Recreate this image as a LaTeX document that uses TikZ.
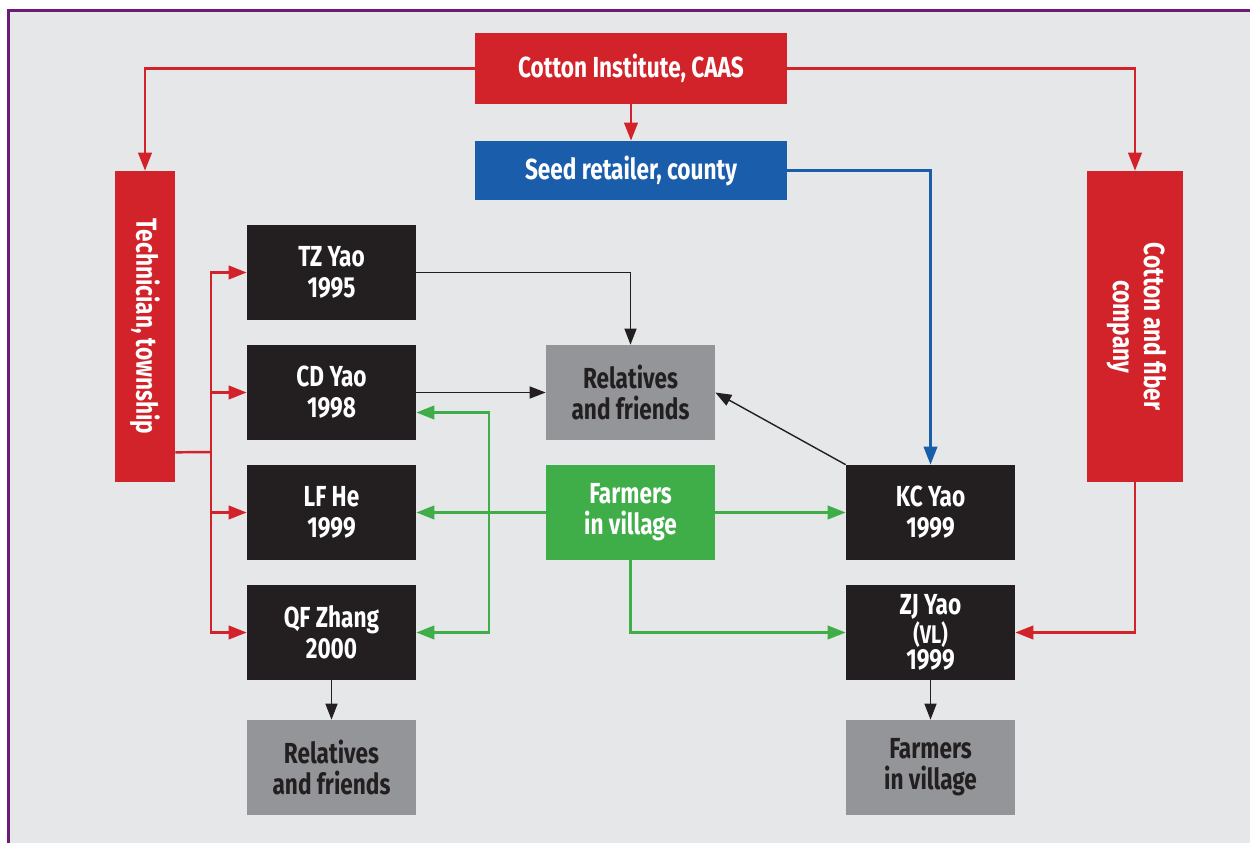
\documentclass[tikz,border=0pt]{standalone}
\usepackage{fontspec}
\setmainfont{Fira Sans}[FakeStretch=0.78]
\usetikzlibrary{arrows.meta}

\definecolor{instred}{HTML}{D2232A}
\definecolor{seedblue}{HTML}{1A5DAB}
\definecolor{farmgreen}{HTML}{3FAE49}
\definecolor{boxblack}{HTML}{231F20}
\definecolor{boxgrey}{HTML}{939598}
\definecolor{panelgrey}{HTML}{E6E7E9}
\definecolor{framepurple}{HTML}{6E1A76}

\begin{document}
\begin{tikzpicture}[x=0.02cm, y=-0.02cm,
  box/.style={minimum width=3.38cm, minimum height=1.9cm, inner sep=0pt,
    align=center, text=white, font=\bfseries\fontsize{16.5}{17.6}\selectfont},
  darkbox/.style={box, fill=boxblack},
  greybox/.style={box, fill=boxgrey, text=boxblack},
  redline/.style={draw=instred, line width=1.4pt, -{Triangle[length=0.36cm, width=0.27cm]}},
  blueline/.style={draw=seedblue, line width=1.3pt, -{Triangle[length=0.36cm, width=0.27cm]}},
  greenline/.style={draw=farmgreen, line width=1.4pt, -{Triangle[length=0.36cm, width=0.27cm]}},
  blackline/.style={draw=boxblack, line width=0.8pt, -{Triangle[length=0.32cm, width=0.24cm]}}]

  % panel
  \clip (0,0) rectangle (1250,842);
  \fill[white] (0,0) rectangle (1250,842);
  \draw[framepurple, line width=1.7pt, fill=panelgrey] (8.5,10.5) rectangle (1300,900);

  % institute and retailer
  \node[box, fill=instred, minimum width=6.24cm, minimum height=1.42cm] (inst) at (631,68.5) {Cotton Institute, CAAS};
  \node[box, fill=seedblue, minimum width=6.24cm, minimum height=1.18cm] (seed) at (631,170.5) {Seed retailer, county};

  % side bars
  \node[box, fill=instred, minimum width=1.2cm, minimum height=6.22cm] (tech) at (145,326.5) {\rotatebox{-90}{Technician, township}};
  \node[box, fill=instred, minimum width=1.92cm, minimum height=6.22cm] (comp) at (1135,326.5)
    {\rotatebox{-90}{\begin{tabular}{@{}c@{}}Cotton and fiber\\company\end{tabular}}};

  % farmers
  \node[darkbox] (tz) at (331.5,272.5) {TZ Yao\\1995};
  \node[darkbox] (cd) at (331.5,392.5) {CD Yao\\1998};
  \node[darkbox] (lf) at (331.5,512.5) {LF He\\1999};
  \node[darkbox] (qf) at (331.5,632.5) {QF Zhang\\2000};
  \node[darkbox] (kc) at (930.5,512.5) {KC Yao\\1999};
  \node[darkbox, font=\bfseries\fontsize{16.5}{14.8}\selectfont] (zj) at (930.5,632.5)
    {ZJ Yao\\{\fontsize{14.5}{14.8}\selectfont(VL)}\\1999};

  % receivers
  \node[greybox] (rel) at (630.5,392.5) {Relatives\\and friends};
  \node[box, fill=farmgreen] (farm) at (630.5,512.5) {Farmers\\in village};
  \node[greybox] (relq) at (331.5,767.5) {Relatives\\and friends};
  \node[greybox] (farmz) at (930.5,767.5) {Farmers\\in village};

  % red links
  \draw[redline] (inst.west) -| (tech.north);
  \draw[redline] (inst.east) -| (comp.north);
  \draw[redline] (inst.south) -- (seed.north);
  \coordinate (fork) at (211,452);
  \draw[instred, line width=1.4pt] ([yshift=0.6cm]tech.south east) -- (fork);
  \draw[redline] (fork) |- (tz.west);
  \draw[redline] (fork) |- (cd.west);
  \draw[redline] (fork) |- (lf.west);
  \draw[redline] (fork) |- (qf.west);
  \draw[redline] (comp.south) |- (zj.east);

  % blue link
  \draw[blueline] (seed.east) -| (kc.north);

  % green links
  \coordinate (split) at (489,512.5);
  \draw[greenline] (farm.west) -- (lf.east);
  \draw[greenline] (split) |- ([yshift=-0.4cm]cd.east);
  \draw[greenline] (split) |- (qf.east);
  \draw[greenline] (farm.east) -- (kc.west);
  \draw[greenline] (farm.south) |- (zj.west);

  % black links
  \draw[blackline] (tz.east) -| (rel.north);
  \draw[blackline] (cd.east) -- (rel.west);
  \draw[blackline] (kc.north west) -- (rel.east);
  \draw[blackline] (qf.south) -- (relq.north);
  \draw[blackline] (zj.south) -- (farmz.north);
\end{tikzpicture}
\end{document}
